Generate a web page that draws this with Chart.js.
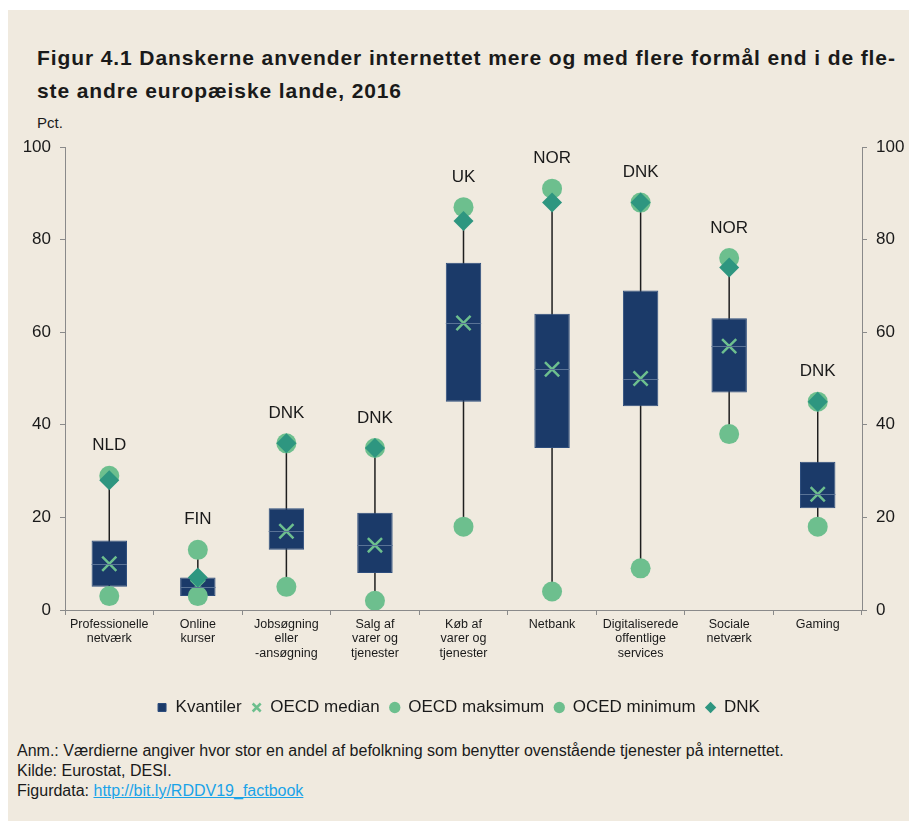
<!DOCTYPE html>
<html>
<head>
<meta charset="utf-8">
<script src="https://cdn.jsdelivr.net/npm/chart.js@4"></script>
<style>
  html, body { margin: 0; padding: 0; background: #ffffff; }
  #panel {
    position: absolute; left: 8px; top: 10px; width: 901px; height: 811px;
    background: #f0eadf; font-family: "Liberation Sans", Arial, sans-serif; color: #1a1a1a;
  }
  #title {
    position: absolute; left: 29px; top: 31px; width: 880px;
    font-size: 21px; font-weight: bold; line-height: 33px; letter-spacing: 0.9px;
  }
  #unit { position: absolute; left: 29px; top: 104px; font-size: 15px; }
  #wrap { position: absolute; left: 0; top: 91px; width: 901px; height: 625px; }
  #notes { position: absolute; left: 9px; top: 731px; font-size: 16px; line-height: 20px; }
  #notes a { color: #1aa3e8; text-decoration: underline; }
</style>
</head>
<body>
<div id="panel">
  <div id="title">Figur 4.1 Danskerne anvender internettet mere og med flere formål end i de fle-<br>ste andre europæiske lande, 2016</div>
  <div id="unit">Pct.</div>
  <div id="wrap"><canvas id="chart"></canvas></div>
  <div id="notes">
    Anm.: Værdierne angiver hvor stor en andel af befolkning som benytter ovenstående tjenester på internettet.<br>
    Kilde: Eurostat, DESI.<br>
    Figurdata: <a href="#">http://bit.ly/RDDV19_factbook</a>
  </div>
</div>

<script>
// categories (x axis)
const categories = [
    ["Professionelle", "netværk"],
    ["Online", "kurser"],
    ["Jobsøgning", "eller", "-ansøgning"],
    ["Salg af", "varer og", "tjenester"],
    ["Køb af", "varer og", "tjenester"],
    ["Netbank"],
    ["Digitaliserede", "offentlige", "services"],
    ["Sociale", "netværk"],
    ["Gaming"]
];

// values (pct.)
const lowerQuartile = [5, 3, 13, 8, 45, 35, 44, 47, 22];
const upperQuartile = [15, 7, 22, 21, 75, 64, 69, 63, 32];
const oecdMedian    = [10, 5, 17, 14, 62, 52, 50, 57, 25];
const oecdMax       = [29, 13, 36, 35, 87, 91, 88, 76, 45];
const oecdMin       = [3, 3, 5, 2, 18, 4, 9, 38, 18];
const dnkValues     = [28, 7, 36, 35, 84, 88, 88, 74, 45];
const maxCountry    = ["NLD", "FIN", "DNK", "DNK", "UK", "NOR", "DNK", "NOR", "DNK"];

const yTicks = [0, 20, 40, 60, 80, 100];

const navy = "#1b3a69";
const lightGreen = "#6dbf8e";
const teal = "#2e9680";

// whiskers behind the boxes, country names above the max points
const boxExtras = {
    id: "boxExtras",
    beforeDatasetsDraw(chart) {
        const ctx = chart.ctx;
        const x = chart.scales.x, y = chart.scales.y;
        ctx.save();
        ctx.strokeStyle = "#1e1e1e";
        ctx.lineWidth = 1.5;
        categories.forEach((c, i) => {
            const px = x.getPixelForValue(i);
            ctx.beginPath();
            ctx.moveTo(px, y.getPixelForValue(oecdMax[i]));
            ctx.lineTo(px, y.getPixelForValue(oecdMin[i]));
            ctx.stroke();
        });
        ctx.restore();
    },
    afterDatasetsDraw(chart) {
        const ctx = chart.ctx;
        const x = chart.scales.x, y = chart.scales.y;
        ctx.save();
        // faint median line inside the box
        const bars = chart.getDatasetMeta(0).data;
        ctx.strokeStyle = "#5a7396";
        ctx.lineWidth = 1;
        bars.forEach((bar, i) => {
            const py = Math.round(y.getPixelForValue(oecdMedian[i])) + 0.5;
            ctx.beginPath();
            ctx.moveTo(bar.x - bar.width / 2, py);
            ctx.lineTo(bar.x + bar.width / 2, py);
            ctx.stroke();
        });
        ctx.restore();
        ctx.save();
        ctx.fillStyle = "#1a1a1a";
        ctx.font = "17px 'Liberation Sans', Arial, sans-serif";
        ctx.textAlign = "center";
        ctx.textBaseline = "middle";
        maxCountry.forEach((name, i) => {
            ctx.fillText(name, x.getPixelForValue(i), y.getPixelForValue(oecdMax[i]) - 30);
        });
        ctx.restore();
    }
};

const quartileBars = lowerQuartile.map((lo, i) => [lo, upperQuartile[i]]);

const tickFont = { family: "'Liberation Sans', Arial, sans-serif", size: 17 };

new Chart(document.getElementById("chart"), {
    type: "bar",
    data: {
        labels: categories,
        datasets: [
            {
                label: "Kvantiler",
                data: quartileBars,
                backgroundColor: navy,
                borderColor: "#2c4c7c",
                borderWidth: 1,
                borderSkipped: false,
                barPercentage: 0.4,
                categoryPercentage: 1,
                pointStyle: "rect",
                order: 5
            },
            {
                type: "line",
                label: "OECD median",
                data: oecdMedian,
                showLine: false,
                pointStyle: "crossRot",
                pointRadius: 10,
                pointBorderWidth: 2.5,
                borderWidth: 1.5,
                borderColor: lightGreen,
                backgroundColor: lightGreen,
                pointBorderColor: lightGreen,
                order: 4
            },
            {
                type: "line",
                label: "OECD maksimum",
                data: oecdMax,
                showLine: false,
                pointStyle: "circle",
                pointRadius: 10,
                pointBorderWidth: 0,
                borderColor: lightGreen,
                backgroundColor: lightGreen,
                pointBackgroundColor: lightGreen,
                order: 3
            },
            {
                type: "line",
                label: "OCED minimum",
                data: oecdMin,
                showLine: false,
                pointStyle: "circle",
                pointRadius: 10,
                pointBorderWidth: 0,
                borderColor: lightGreen,
                backgroundColor: lightGreen,
                pointBackgroundColor: lightGreen,
                order: 2
            },
            {
                type: "line",
                label: "DNK",
                data: dnkValues,
                showLine: false,
                pointStyle: "rectRot",
                pointRadius: 10,
                pointBorderWidth: 0,
                borderColor: teal,
                backgroundColor: teal,
                pointBackgroundColor: teal,
                order: 1
            }
        ]
    },
    options: {
        responsive: true,
        maintainAspectRatio: false,
        animation: false,
        layout: { padding: { top: 46, left: 0, right: 0, bottom: 0 } },
        plugins: {
            tooltip: { enabled: false },
            legend: {
                position: "bottom",
                labels: {
                    usePointStyle: true,
                    boxWidth: 10,
                    boxHeight: 8,
                    padding: 10,
                    color: "#1a1a1a",
                    font: tickFont,
                    sort: (a, b) => a.datasetIndex - b.datasetIndex
                }
            }
        },
        scales: {
            x: {
                grid: { drawOnChartArea: false, tickLength: 5, color: "#8a8a8a" },
                border: { color: "#8a8a8a" },
                ticks: {
                    color: "#1a1a1a",
                    padding: 2,
                    maxRotation: 0,
                    autoSkip: false,
                    font: { family: "'Liberation Sans', Arial, sans-serif", size: 12.5, lineHeight: 1.17 }
                },
                afterFit: s => { s.height = 79; }
            },
            y: {
                min: 0,
                max: 100,
                afterBuildTicks: s => { s.ticks = yTicks.map(v => ({ value: v })); },
                grid: { drawOnChartArea: false, tickLength: 5, color: "#8a8a8a" },
                border: { color: "#8a8a8a" },
                ticks: { color: "#1a1a1a", padding: 9, font: tickFont },
                afterFit: s => { s.width = 57; }
            },
            y2: {
                position: "right",
                min: 0,
                max: 100,
                afterBuildTicks: s => { s.ticks = yTicks.map(v => ({ value: v })); },
                grid: { drawOnChartArea: false, tickLength: 5, color: "#8a8a8a" },
                border: { color: "#8a8a8a" },
                ticks: { color: "#1a1a1a", padding: 9, font: tickFont },
                afterFit: s => { s.width = 47; }
            }
        }
    },
    plugins: [boxExtras]
});
</script>
</body>
</html>
